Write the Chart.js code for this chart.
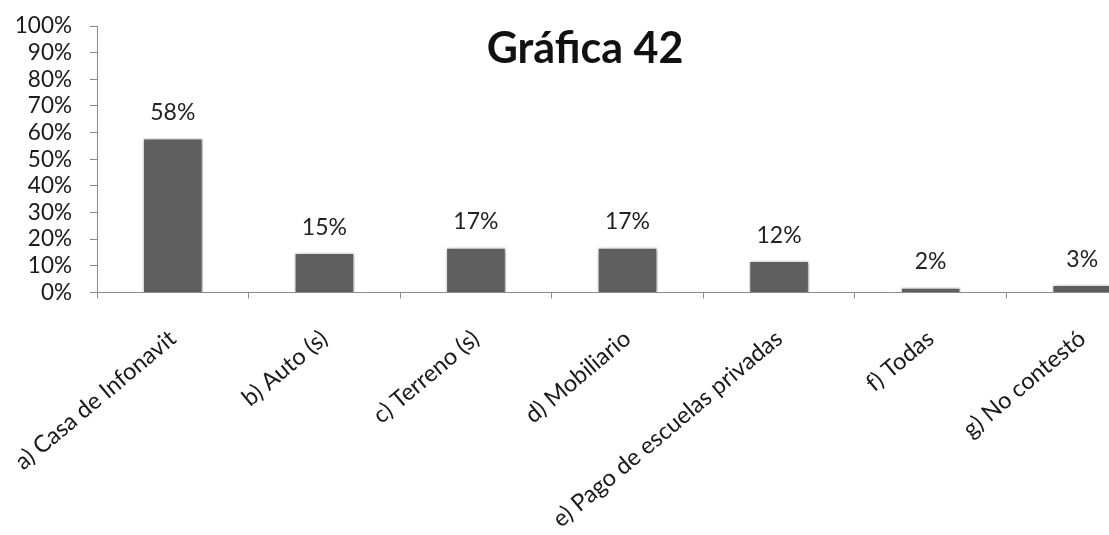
<!DOCTYPE html>
<html>
<head>
<meta charset="utf-8">
<script src="https://cdn.jsdelivr.net/npm/chart.js@4.4.1/dist/chart.umd.min.js"></script>
<style>
  html, body { margin: 0; padding: 0; background: #ffffff; overflow: hidden; }
  #wrap { width: 1162px; height: 559px; }
</style>
</head>
<body>
<div id="wrap"><canvas id="c" width="1162" height="559"></canvas></div>
<script>
// Respuestas (porcentaje de encuestados)
const categories = [
  'a) Casa de Infonavit',
  'b) Auto (s)',
  'c) Terreno (s)',
  'd) Mobiliario',
  'e) Pago de escuelas privadas',
  'f) Todas',
  'g) No contestó'
];
const values = [58, 15, 17, 17, 12, 2, 3];
const yTicks = [0, 10, 20, 30, 40, 50, 60, 70, 80, 90, 100];
const chartTitle = 'Gráfica 42';

const FONT = 'Lato, Carlito, "Open Sans", sans-serif';
const AXIS = '#8a8a8a';

// soft shadow behind the bars
const barShadow = {
  id: 'barShadow',
  beforeDatasetsDraw(chart) {
    const ctx = chart.ctx;
    ctx.save();
    ctx.shadowColor = 'rgba(0,0,0,0.35)';
    ctx.shadowBlur = 4;
    ctx.shadowOffsetX = 1;
    ctx.shadowOffsetY = 1;
  },
  afterDatasetsDraw(chart) {
    chart.ctx.restore();
  }
};

// percentage labels above each bar
const valueLabels = {
  id: 'valueLabels',
  afterDatasetsDraw(chart) {
    const ctx = chart.ctx;
    const meta = chart.getDatasetMeta(0);
    ctx.save();
    ctx.font = '23px ' + FONT;
    ctx.fillStyle = '#222222';
    ctx.textAlign = 'center';
    ctx.textBaseline = 'alphabetic';
    meta.data.forEach((bar, i) => {
      ctx.fillText(values[i] + '%', bar.x, bar.y - 18);
    });
    ctx.restore();
  }
};

// title drawn inside the plot region
const innerTitle = {
  id: 'innerTitle',
  afterDraw(chart) {
    const ctx = chart.ctx;
    const area = chart.chartArea;
    ctx.save();
    ctx.font = 'bold 43px ' + FONT;
    ctx.fillStyle = '#111111';
    ctx.textAlign = 'center';
    ctx.textBaseline = 'alphabetic';
    ctx.fillText(chartTitle, area.left + (area.right - area.left) * 0.46, area.top + 37);
    ctx.restore();
  }
};

new Chart(document.getElementById('c'), {
  type: 'bar',
  data: {
    labels: categories,
    datasets: [{
      data: values,
      backgroundColor: '#5f5f5f',
      borderColor: '#f4f4f4',
      borderWidth: 1.5,
      barPercentage: 0.4,
      categoryPercentage: 1.0
    }]
  },
  options: {
    responsive: false,
    animation: false,
    events: [],
    layout: { padding: { left: 8, right: 4, top: 26, bottom: 0 } },
    plugins: {
      legend: { display: false },
      tooltip: { enabled: false },
      title: { display: false }
    },
    scales: {
      y: {
        min: 0,
        max: 100,
        afterBuildTicks(scale) {
          scale.ticks = yTicks.map(v => ({ value: v }));
        },
        afterFit(scale) {
          scale.width = 89;
          scale.paddingTop = 0;
          scale.paddingBottom = 0;
        },
        border: { display: true, color: AXIS, width: 1 },
        grid: {
          display: true,
          drawOnChartArea: false,
          drawTicks: true,
          tickLength: 7,
          color: AXIS
        },
        ticks: {
          autoSkip: false,
          padding: 18,
          color: '#1a1a1a',
          font: { family: FONT, size: 22.5 },
          callback: v => v + '%'
        }
      },
      x: {
        afterFit(scale) {
          // keep the rotated first label from widening the left margin
          scale.paddingLeft = 0;
          scale.paddingRight = 0;
        },
        border: { display: true, color: AXIS, width: 1 },
        grid: {
          display: true,
          offset: true,
          drawOnChartArea: false,
          drawTicks: true,
          tickLength: 6,
          color: AXIS
        },
        ticks: {
          minRotation: 40,
          maxRotation: 40,
          autoSkip: false,
          padding: 26,
          color: '#1a1a1a',
          font: { family: FONT, size: 23.5 }
        }
      }
    }
  },
  plugins: [barShadow, valueLabels, innerTitle]
});
</script>
</body>
</html>
